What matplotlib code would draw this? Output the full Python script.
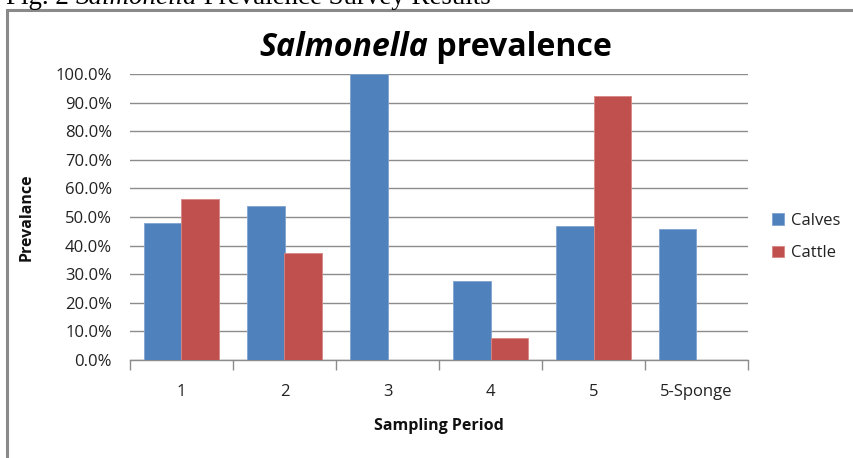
import matplotlib
matplotlib.use("Agg")
import matplotlib.pyplot as plt
import numpy as np
from matplotlib.ticker import FuncFormatter, FixedLocator, MultipleLocator

categories = ["1", "2", "3", "4", "5", "5-Sponge"]
calves = [0.480, 0.538, 1.000, 0.276, 0.469, 0.457]
cattle = [0.562, 0.373, np.nan, 0.078, 0.923, np.nan]
series_names = ["Calves", "Cattle"]
colors = ["#4F81BD", "#C0504D"]

FONT = "Open Sans"
W, H = 854, 458
fig = plt.figure(figsize=(W / 100, H / 100), dpi=100)
fig.patch.set_facecolor("white")

# outer chart frame (only top and left edges visible)
frame = plt.Rectangle((7.5 / W, -0.05), 1.2, (H - 10 - (-0.05 * H)) / H,
                      transform=fig.transFigure, fill=False,
                      edgecolor="#8a8a8a", linewidth=2.2, zorder=0)
fig.add_artist(frame)

left, right, top, bottom = 130, 748, 74, 360
ax = fig.add_axes([left / W, 1 - bottom / H, (right - left) / W, (bottom - top) / H])

x = np.arange(len(categories))
bw = 0.364
ax.bar(x - bw / 2, calves, bw, color=colors[0], label=series_names[0],
       edgecolor="#7fa3d0", linewidth=0.6, zorder=3)
ax.bar(x + bw / 2, cattle, bw, color=colors[1], label=series_names[1],
       edgecolor="#d98684", linewidth=0.6, zorder=3)

ax.set_xlim(-0.5, len(categories) - 0.5)
ax.set_ylim(0, 1.0)
ax.yaxis.set_major_locator(MultipleLocator(0.1))
ax.yaxis.set_major_formatter(FuncFormatter(lambda v, p: f"{v * 100:.1f}%"))
ax.grid(axis="y", color="#8c8c8c", linewidth=1.0, zorder=0)
ax.set_axisbelow(True)

for s in ["top", "right", "left"]:
    ax.spines[s].set_visible(False)
ax.spines["bottom"].set_color("#8c8c8c")
ax.spines["bottom"].set_linewidth(1.0)

ax.xaxis.set_major_locator(FixedLocator(np.arange(-0.5, len(categories), 1.0)))
ax.xaxis.set_major_formatter(FuncFormatter(lambda v, p: ""))
ax.xaxis.set_minor_locator(FixedLocator(x))
ax.set_xticklabels(categories, minor=True)
ax.tick_params(axis="x", which="major", length=7, color="#8c8c8c", width=1.0, direction="out")
ax.tick_params(axis="x", which="minor", length=0, pad=17, labelsize=12, labelcolor="#222222")
ax.tick_params(axis="y", length=0, pad=13, labelsize=12, labelcolor="#222222")
for lab in ax.get_xticklabels(minor=True) + ax.get_yticklabels():
    lab.set_fontfamily(FONT)

ax.set_xlabel("Sampling Period", fontfamily=FONT, fontweight="bold", fontsize=11.5,
              labelpad=13, color="#111111")
ax.set_ylabel("Prevalance", fontfamily=FONT, fontweight="bold", fontsize=11.5,
              color="#111111")
ax.yaxis.set_label_coords(-(left - 35) / (right - left), 0.5)

leg = ax.legend(loc="center left", bbox_to_anchor=((757 - left) / (right - left), 0.43),
                frameon=False, prop={"family": FONT, "size": 12},
                handlelength=0.7, handleheight=0.7, handletextpad=0.45,
                labelspacing=1.0)
for t in leg.get_texts():
    t.set_color("#222222")

fig.canvas.draw()
renderer = fig.canvas.get_renderer()

def place_pieces(pieces, baseline_px, target_width, x_center_px=None, x_left_px=None, base_size=12):
    texts = []
    for txt, kw in pieces:
        t = fig.text(0, 0, txt, transform=None, va="baseline", ha="left", fontsize=base_size, **kw)
        texts.append(t)
    total = sum(t.get_window_extent(renderer).width for t in texts)
    size = base_size * target_width / total
    for t in texts:
        t.set_fontsize(size)
    widths = [t.get_window_extent(renderer).width for t in texts]
    total = sum(widths)
    xs = x_center_px - total / 2 if x_center_px is not None else x_left_px
    for t, w in zip(texts, widths):
        t.set_position((xs, H - baseline_px))
        xs += w
    return texts

place_pieces([("Salmonella", dict(fontfamily=FONT, fontweight="bold", style="italic")),
              (" prevalence", dict(fontfamily=FONT, fontweight="bold"))],
             baseline_px=56, target_width=352, x_center_px=436)

place_pieces([("Fig. 2 ", dict(fontfamily="Liberation Serif")),
              ("Salmonella", dict(fontfamily="Liberation Serif", style="italic")),
              (" Prevalence Survey Results", dict(fontfamily="Liberation Serif"))],
             baseline_px=4, target_width=486, x_left_px=6)

fig.savefig("out.png", dpi=100, facecolor="white")
